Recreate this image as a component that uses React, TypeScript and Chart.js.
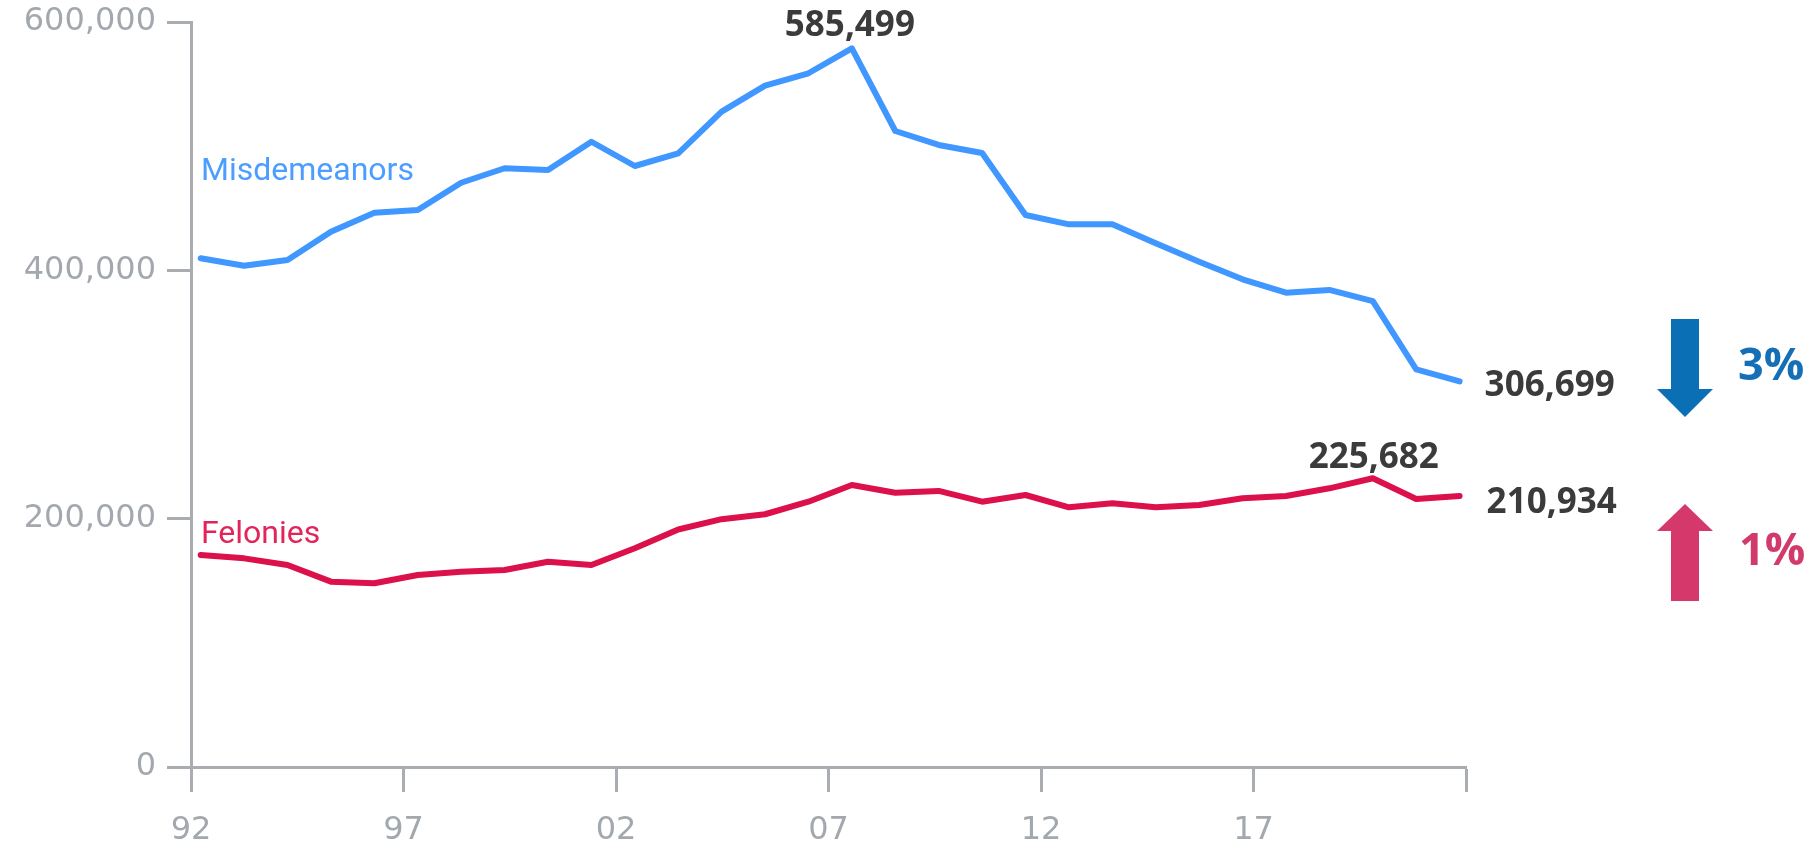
import React, { useEffect, useRef } from "react";
import { Chart, registerables } from "chart.js";

Chart.register(...registerables);

// ---- Data ----
const years = [
  1992, 1993, 1994, 1995, 1996, 1997, 1998, 1999, 2000, 2001,
  2002, 2003, 2004, 2005, 2006, 2007, 2008, 2009, 2010, 2011,
  2012, 2013, 2014, 2015, 2016, 2017, 2018, 2019, 2020, 2021,
];
const misdemeanors = [
  409800, 403600, 408400, 432000, 447900, 450200, 473000, 485100, 483700, 507300,
  487000, 497600, 532500, 554200, 564600, 585499, 516300, 504600, 497900, 446000,
  438200, 438200, 422300, 406900, 392200, 381000, 383300, 374000, 316900, 306699,
];
const felonies = [
  161500, 158700, 153100, 139200, 137800, 144800, 147500, 149000, 155900, 153100,
  167100, 182800, 191500, 195600, 206100, 220100, 213600, 215100, 206100, 211700,
  201400, 204800, 201400, 203300, 209000, 210900, 217300, 225682, 208400, 210934,
];
const seriesNames = ["Misdemeanors", "Felonies"];
const yearTicks = [1992, 1997, 2002, 2007, 2012, 2017, 2022];
const yearTickLabels = ["92", "97", "02", "07", "12", "17", ""];
const valueTicks = [0, 200000, 400000, 600000];
const changeLabels = ["3%", "1%"];

const BLUE_LINE = "#3f97ff";
const RED_LINE = "#dc104b";
const AXIS = "#a9adb2";
const TICK_TEXT = "#a2a8ae";
const TICK_FONT = "'DejaVu Sans', Roboto, sans-serif";

const fmt = (v: number) => v.toLocaleString("en-US");

const annotate = {
  id: "annotate",
  afterDatasetsDraw(chart: any) {
    const ctx = chart.ctx as CanvasRenderingContext2D;
    const xs = chart.scales.xd;
    const ys = chart.scales.yd;
    const pt = (arr: number[], i: number) => ({
      x: xs.getPixelForValue(years[i]),
      y: ys.getPixelForValue(arr[i]),
    });
    ctx.save();

    // series names
    ctx.textAlign = "left";
    ctx.textBaseline = "alphabetic";
    ctx.font = '32px Roboto, "Open Sans", sans-serif';
    ctx.fillStyle = "#4b9dff";
    ctx.fillText(seriesNames[0], 201, 180);
    ctx.fillStyle = "#e2245a";
    ctx.fillText(seriesNames[1], 201, 543);

    // value callouts
    ctx.font = 'bold 35px "Open Sans", Roboto, sans-serif';
    ctx.fillStyle = "#3b3b3b";
    const mPeak = misdemeanors.indexOf(Math.max(...misdemeanors));
    const fPeak = felonies.indexOf(Math.max(...felonies));
    const last = years.length - 1;

    let p = pt(misdemeanors, mPeak);
    ctx.textAlign = "center";
    ctx.fillText(fmt(misdemeanors[mPeak]), p.x - 2, p.y - 12);
    p = pt(felonies, fPeak);
    ctx.fillText(fmt(felonies[fPeak]), p.x + 1, p.y - 10);

    ctx.textAlign = "left";
    p = pt(misdemeanors, last);
    ctx.fillText(fmt(misdemeanors[last]), p.x + 25, p.y + 15);
    p = pt(felonies, last);
    ctx.fillText(fmt(felonies[last]), p.x + 27, p.y + 17);

    // change arrows
    const ax = 1685;
    ctx.fillStyle = "#0b6fb5";
    ctx.fillRect(ax - 14, 319, 28, 71);
    ctx.beginPath();
    ctx.moveTo(ax - 28, 389);
    ctx.lineTo(ax + 28, 389);
    ctx.lineTo(ax, 417);
    ctx.closePath();
    ctx.fill();

    ctx.fillStyle = "#d5396b";
    ctx.beginPath();
    ctx.moveTo(ax, 504);
    ctx.lineTo(ax + 28, 531);
    ctx.lineTo(ax - 28, 531);
    ctx.closePath();
    ctx.fill();
    ctx.fillRect(ax - 14, 530, 28, 71);

    ctx.font = 'bold 45px "Open Sans", Roboto, sans-serif';
    ctx.textAlign = "left";
    ctx.fillStyle = "#146fb6";
    ctx.fillText(changeLabels[0], 1738, 380);
    ctx.fillStyle = "#d23a6b";
    ctx.fillText(changeLabels[1], 1739, 565);

    ctx.restore();
  },
};

export default function App() {
  const ref = useRef<HTMLCanvasElement | null>(null);

  useEffect(() => {
    if (!ref.current) return;
    const chart = new Chart(ref.current, {
      type: "line",
      data: {
        datasets: [
          {
            label: seriesNames[0],
            data: years.map((y, i) => ({ x: y, y: misdemeanors[i] })),
            borderColor: BLUE_LINE,
            borderWidth: 6,
            pointRadius: 0,
            tension: 0,
            borderJoinStyle: "round",
            borderCapStyle: "round",
            xAxisID: "xd",
            yAxisID: "yd",
          },
          {
            label: seriesNames[1],
            data: years.map((y, i) => ({ x: y, y: felonies[i] })),
            borderColor: RED_LINE,
            borderWidth: 6,
            pointRadius: 0,
            tension: 0,
            borderJoinStyle: "round",
            borderCapStyle: "round",
            xAxisID: "xd",
            yAxisID: "yd",
          },
        ],
      },
      options: {
        responsive: false,
        animation: false,
        devicePixelRatio: 1,
        layout: { padding: { left: 0, right: 347, top: 22, bottom: 0 } },
        plugins: {
          legend: { display: false },
          tooltip: { enabled: false },
          title: { display: false },
        },
        scales: {
          x: {
            type: "linear",
            position: "bottom",
            min: 1992,
            max: 2022,
            afterBuildTicks: (s: any) => {
              s.ticks = yearTicks.map((v) => ({ value: v }));
            },
            afterFit: (s: any) => {
              s.height = 78;
              s.paddingLeft = 0;
              s.paddingRight = 0;
            },
            ticks: {
              autoSkip: false,
              maxRotation: 0,
              padding: 19,
              color: TICK_TEXT,
              font: { family: TICK_FONT, size: 32 },
              callback: (v: any) => {
                const i = yearTicks.indexOf(Number(v));
                return i >= 0 ? yearTickLabels[i] : "";
              },
            },
            grid: {
              drawOnChartArea: false,
              drawTicks: true,
              tickLength: 25,
              tickWidth: 3,
              tickColor: AXIS,
            },
            border: { display: true, color: AXIS, width: 3 },
          },
          y: {
            type: "linear",
            position: "left",
            min: 0,
            max: 600000,
            afterBuildTicks: (s: any) => {
              s.ticks = valueTicks.map((v) => ({ value: v }));
            },
            afterFit: (s: any) => {
              s.width = 191;
              s.paddingTop = 0;
              s.paddingBottom = 0;
            },
            ticks: {
              padding: 11,
              color: TICK_TEXT,
              font: { family: TICK_FONT, size: 32 },
              callback: (v: any) => fmt(Number(v)),
            },
            grid: {
              drawOnChartArea: false,
              drawTicks: true,
              tickLength: 24,
              tickWidth: 3,
              tickColor: AXIS,
            },
            border: { display: true, color: AXIS, width: 3 },
          },
          xd: {
            type: "linear",
            display: false,
            min: 1991.7765,
            max: 2021.147,
          },
          yd: {
            type: "linear",
            display: false,
            min: -15900,
            max: 607500,
          },
        },
      },
      plugins: [annotate],
    });
    return () => chart.destroy();
  }, []);

  return (
    <div style={{ position: "fixed", left: 0, top: 0, width: 1813, height: 845, background: "#fff" }}>
      <canvas ref={ref} width={1813} height={845} style={{ display: "block" }} />
    </div>
  );
}
